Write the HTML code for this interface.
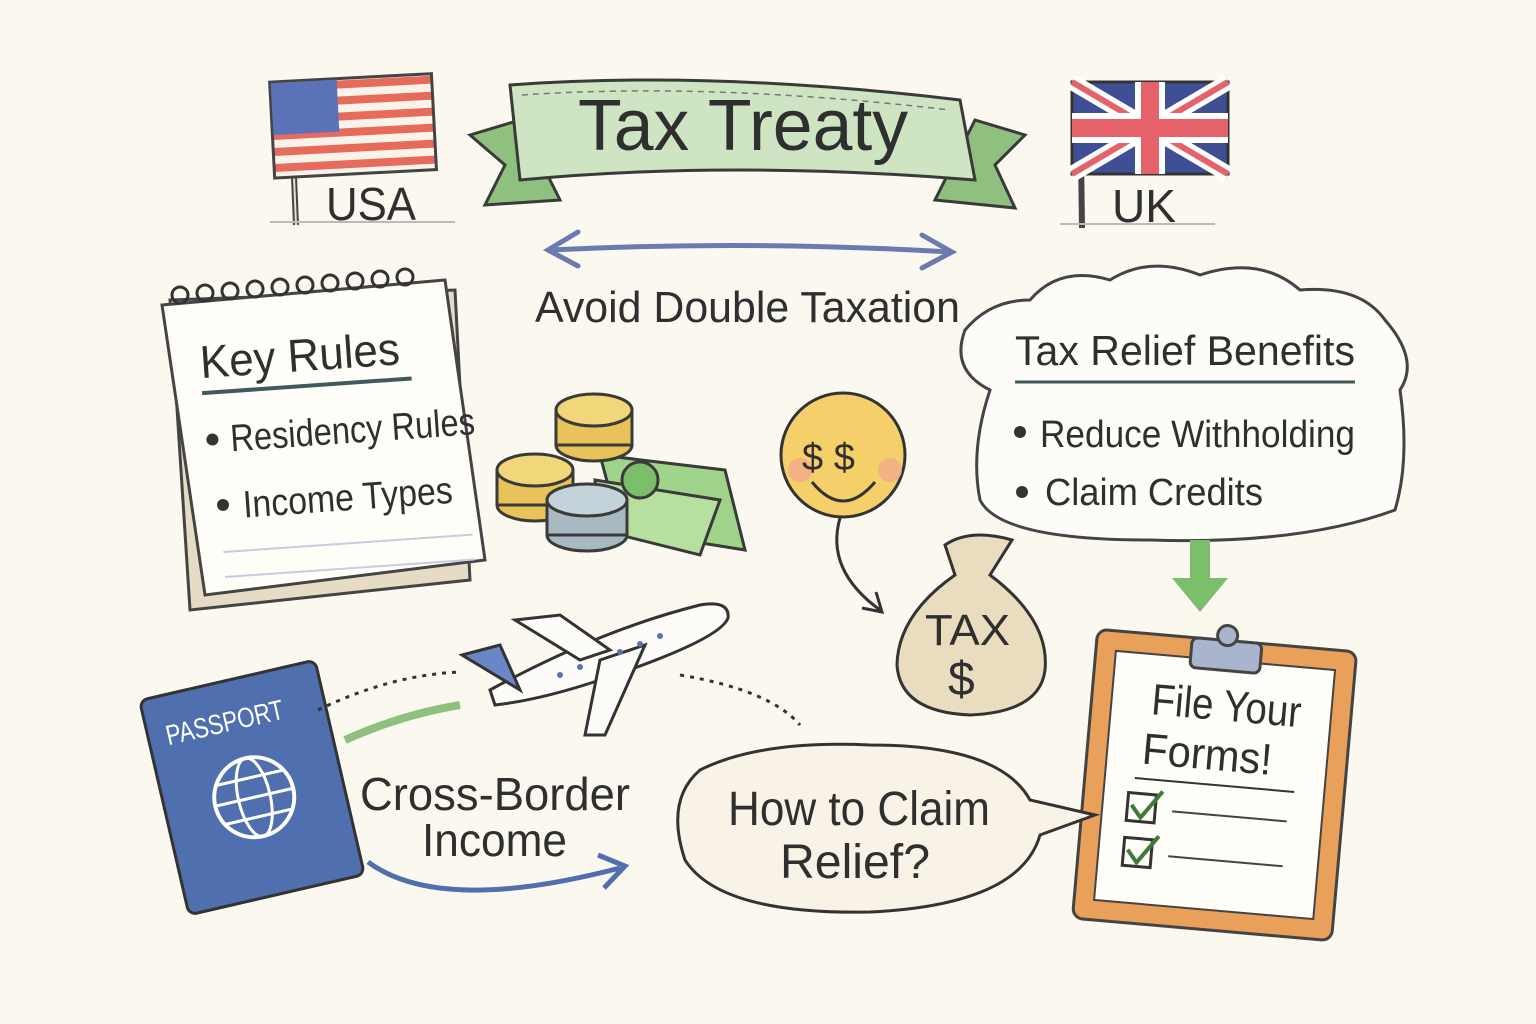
<!DOCTYPE html>
<html><head><meta charset="utf-8"><style>
html,body{margin:0;padding:0;background:#fbf8f0;}
svg{display:block}
text{font-family:"Liberation Sans Narrow","Liberation Sans",sans-serif;fill:#2f2f2f}
</style></head><body>
<svg width="1536" height="1024" viewBox="0 0 1536 1024" xmlns="http://www.w3.org/2000/svg">
<rect width="1536" height="1024" fill="#fbf8f0"/>
<defs>
<pattern id="stripes" width="10" height="16" patternUnits="userSpaceOnUse">
<rect width="10" height="8" fill="#e56b5d"/><rect y="8" width="10" height="8" fill="#fbf3ea"/></pattern>
</defs>
<!-- USA flag -->
<line x1="290" y1="80" x2="296" y2="225" stroke="#444" stroke-width="6"/>
<line x1="290" y1="80" x2="296" y2="225" stroke="#e8e2d6" stroke-width="2"/>
<g transform="rotate(-3 350 125)">
<rect x="272" y="78" width="162" height="96" fill="url(#stripes)" stroke="#444" stroke-width="3"/>
<rect x="273" y="79" width="66" height="52" fill="#5b72b8"/>
</g>
<text x="326" y="220" font-size="46" textLength="90" lengthAdjust="spacingAndGlyphs">USA</text>
<line x1="270" y1="222" x2="455" y2="222" stroke="#bbb" stroke-width="2"/>
<!-- banner -->
<path d="M470 135 L520 120 L560 200 L485 205 L505 165 Z" fill="#8fc07f" stroke="#3a3a3a" stroke-width="3"/>
<path d="M1025 135 L975 120 L935 200 L1015 208 L995 165 Z" fill="#8fc07f" stroke="#3a3a3a" stroke-width="3"/>
<path d="M510 85 Q710 70 960 100 L975 180 Q730 160 520 180 Z" fill="#cfe4c2" stroke="#3a3a3a" stroke-width="3"/>
<path d="M522 95 Q710 82 950 110" fill="none" stroke="#777" stroke-width="1.5" stroke-dasharray="6 5"/>
<text x="578" y="150" font-size="72" textLength="330" lengthAdjust="spacingAndGlyphs">Tax Treaty</text>
<!-- UK flag -->
<line x1="1080" y1="80" x2="1082" y2="228" stroke="#444" stroke-width="6"/>
<rect x="1072" y="82" width="156" height="92" fill="#3f4f95" stroke="#333" stroke-width="3"/>
<line x1="1072" y1="82" x2="1228" y2="174" stroke="#fff" stroke-width="16"/>
<line x1="1228" y1="82" x2="1072" y2="174" stroke="#fff" stroke-width="16"/>
<line x1="1072" y1="82" x2="1228" y2="174" stroke="#e5626a" stroke-width="6"/>
<line x1="1228" y1="82" x2="1072" y2="174" stroke="#e5626a" stroke-width="6"/>
<rect x="1135" y="82" width="30" height="92" fill="#fff"/><rect x="1072" y="113" width="156" height="30" fill="#fff"/>
<rect x="1141" y="82" width="18" height="92" fill="#e5626a"/><rect x="1072" y="119" width="156" height="18" fill="#e5626a"/>
<text x="1112" y="222" font-size="46" textLength="64" lengthAdjust="spacingAndGlyphs">UK</text>
<line x1="1060" y1="224" x2="1215" y2="224" stroke="#bbb" stroke-width="2"/>
<!-- double arrow -->
<path d="M550 250 Q750 240 950 252" fill="none" stroke="#6b7bb0" stroke-width="5"/>
<path d="M578 232 L548 250 L578 266" fill="none" stroke="#6b7bb0" stroke-width="5" stroke-linecap="round"/>
<path d="M922 235 L952 252 L922 268" fill="none" stroke="#6b7bb0" stroke-width="5" stroke-linecap="round"/>
<text x="535" y="322" font-size="44" textLength="425" lengthAdjust="spacingAndGlyphs">Avoid Double Taxation</text>
<!-- notepad -->
<path d="M170 300 L455 290 L470 580 L190 610 Z" fill="#e6dcc6" stroke="#444" stroke-width="3"/>
<path d="M162 305 L445 280 L485 560 L205 595 Z" fill="#fffdf8" stroke="#444" stroke-width="3"/>
<g fill="none" stroke="#333" stroke-width="3">
<circle cx="180" cy="295" r="8"/><circle cx="205" cy="293" r="8"/><circle cx="230" cy="291" r="8"/><circle cx="255" cy="289" r="8"/><circle cx="280" cy="287" r="8"/><circle cx="305" cy="285" r="8"/><circle cx="330" cy="283" r="8"/><circle cx="355" cy="281" r="8"/><circle cx="380" cy="279" r="8"/><circle cx="405" cy="277" r="8"/>
</g>
<g transform="rotate(-4 320 430)">
<text x="205" y="370" font-size="46" textLength="200" lengthAdjust="spacingAndGlyphs">Key Rules</text>
<line x1="205" y1="385" x2="415" y2="385" stroke="#3e5a5a" stroke-width="4"/>
<circle cx="212" cy="432" r="6" fill="#333"/><text x="230" y="445" font-size="38" textLength="245" lengthAdjust="spacingAndGlyphs">Residency Rules</text>
<circle cx="218" cy="498" r="6" fill="#333"/><text x="238" y="512" font-size="38" textLength="210" lengthAdjust="spacingAndGlyphs">Income Types</text>
<line x1="215" y1="545" x2="465" y2="545" stroke="#c7cde0" stroke-width="2"/>
<line x1="215" y1="570" x2="465" y2="570" stroke="#c7cde0" stroke-width="2"/>
</g>
<!-- coins & bills -->
<g stroke="#3a3a3a" stroke-width="3">
<path d="M600 455 L725 470 L745 550 L620 530 Z" fill="#9fd48a"/>
<path d="M595 480 L720 500 L700 555 L600 530 Z" fill="#b7e0a0"/>
<circle cx="640" cy="480" r="18" fill="#7cbf6a"/>
<ellipse cx="594" cy="445" rx="38" ry="16" fill="#e9c25a"/><rect x="556" y="410" width="76" height="35" fill="#e9c25a"/><ellipse cx="594" cy="410" rx="38" ry="16" fill="#f2d67a"/>
<ellipse cx="535" cy="505" rx="38" ry="16" fill="#e9c25a"/><rect x="497" y="470" width="76" height="35" fill="#e9c25a"/><ellipse cx="535" cy="470" rx="38" ry="16" fill="#f2d67a"/>
<ellipse cx="587" cy="535" rx="40" ry="16" fill="#a8b9c2"/><rect x="547" y="500" width="80" height="35" fill="#a8b9c2"/><ellipse cx="587" cy="500" rx="40" ry="16" fill="#c4d2da"/>
</g>
<!-- smiley -->
<circle cx="843" cy="455" r="62" fill="#f5cf6a" stroke="#333" stroke-width="3"/>
<circle cx="800" cy="470" r="12" fill="#f2a590" opacity=".7"/><circle cx="890" cy="470" r="12" fill="#f2a590" opacity=".7"/>
<text x="802" y="470" font-size="38">$ $</text>
<path d="M812 482 Q843 520 875 482" fill="none" stroke="#333" stroke-width="3"/>
<path d="M840 518 Q825 570 880 610" fill="none" stroke="#333" stroke-width="3"/>
<path d="M862 608 L882 612 L876 592" fill="none" stroke="#333" stroke-width="3"/>
<!-- money bag -->
<path d="M945 545 Q970 528 1012 540 L990 575 Q1050 620 1045 670 Q1040 712 970 715 Q900 712 897 665 Q898 615 955 575 Z" fill="#eadcbf" stroke="#333" stroke-width="3"/>
<text x="925" y="645" font-size="44" textLength="85" lengthAdjust="spacingAndGlyphs">TAX</text><text x="948" y="695" font-size="48">$</text>
<!-- cloud -->
<path d="M990 390 Q950 370 965 330 Q990 300 1030 300 Q1060 265 1110 280 Q1150 255 1200 275 Q1260 255 1300 290 Q1360 285 1385 320 Q1420 360 1400 390 Q1410 460 1395 510 Q1300 545 1150 540 Q1000 540 980 500 Q970 450 990 390 Z" fill="#fdfcf8" stroke="#444" stroke-width="3"/>
<text x="1015" y="365" font-size="42" textLength="340" lengthAdjust="spacingAndGlyphs">Tax Relief Benefits</text>
<line x1="1015" y1="382" x2="1355" y2="382" stroke="#3e5a5a" stroke-width="3"/>
<circle cx="1020" cy="432" r="6" fill="#333"/><text x="1040" y="447" font-size="38" textLength="315" lengthAdjust="spacingAndGlyphs">Reduce Withholding</text>
<circle cx="1022" cy="492" r="6" fill="#333"/><text x="1045" y="505" font-size="38" textLength="218" lengthAdjust="spacingAndGlyphs">Claim Credits</text>
<!-- green arrow -->
<rect x="1190" y="540" width="20" height="40" fill="#7cbf6a"/>
<path d="M1172 578 L1228 578 L1200 612 Z" fill="#7cbf6a"/>
<!-- clipboard -->
<g transform="rotate(5 1215 780)">
<rect x="1085" y="640" width="260" height="290" rx="10" fill="#e8a05a" stroke="#444" stroke-width="3"/>
<rect x="1105" y="660" width="220" height="250" fill="#fffdf8" stroke="#444" stroke-width="2"/>
<rect x="1180" y="640" width="70" height="30" rx="6" fill="#a9b5cc" stroke="#444" stroke-width="3"/>
<circle cx="1215" cy="635" r="10" fill="#a9b5cc" stroke="#444" stroke-width="3"/>
<text x="1145" y="720" font-size="44" textLength="150" lengthAdjust="spacingAndGlyphs">File Your</text>
<text x="1140" y="770" font-size="44" textLength="130" lengthAdjust="spacingAndGlyphs">Forms!</text>
<line x1="1135" y1="785" x2="1295" y2="785" stroke="#333" stroke-width="2"/>
<rect x="1130" y="800" width="28" height="28" fill="none" stroke="#333" stroke-width="3"/>
<path d="M1134 812 L1144 824 L1164 796" fill="none" stroke="#3f7a3a" stroke-width="4"/>
<rect x="1130" y="845" width="28" height="28" fill="none" stroke="#333" stroke-width="3"/>
<path d="M1134 857 L1144 869 L1164 841" fill="none" stroke="#3f7a3a" stroke-width="4"/>
<line x1="1175" y1="815" x2="1290" y2="815" stroke="#444" stroke-width="2"/>
<line x1="1175" y1="860" x2="1290" y2="860" stroke="#444" stroke-width="2"/>
</g>
<!-- passport -->
<g transform="rotate(-13 240 780)">
<rect x="160" y="680" width="180" height="220" rx="8" fill="#4f6fae" stroke="#333" stroke-width="3"/>
<text x="178" y="730" font-size="28" textLength="120" lengthAdjust="spacingAndGlyphs" style="fill:#fff">PASSPORT</text>
<circle cx="250" cy="800" r="40" fill="none" stroke="#fff" stroke-width="4"/>
<ellipse cx="250" cy="800" rx="16" ry="40" fill="none" stroke="#fff" stroke-width="3"/>
<line x1="210" y1="800" x2="290" y2="800" stroke="#fff" stroke-width="3"/>
<line x1="216" y1="780" x2="284" y2="780" stroke="#fff" stroke-width="3"/>
<line x1="216" y1="820" x2="284" y2="820" stroke="#fff" stroke-width="3"/>
</g>
<!-- airplane -->
<path d="M345 740 Q400 715 460 705" stroke="#8fc07f" stroke-width="8" fill="none"/>
<path d="M318 710 Q390 675 460 672" fill="none" stroke="#333" stroke-width="3" stroke-dasharray="4 6"/>
<path d="M680 675 Q770 690 800 725" fill="none" stroke="#333" stroke-width="3" stroke-dasharray="4 6"/>
<path d="M490 690 Q600 630 700 605 Q730 600 728 618 Q720 640 600 680 Q540 700 495 705 Z" fill="#fdfcf8" stroke="#333" stroke-width="3"/>
<path d="M462 655 L500 645 L520 690 Z" fill="#6b86c4" stroke="#333" stroke-width="3"/>
<path d="M515 620 L560 615 L610 650 L580 660 Z" fill="#fdfcf8" stroke="#333" stroke-width="3"/>
<path d="M600 660 L645 645 L605 735 L585 735 Z" fill="#fdfcf8" stroke="#333" stroke-width="3"/>
<g fill="#5b72b8"><circle cx="560" cy="675" r="3"/><circle cx="580" cy="667" r="3"/><circle cx="620" cy="652" r="3"/><circle cx="640" cy="644" r="3"/><circle cx="660" cy="636" r="3"/></g>
<text x="360" y="810" font-size="46" textLength="270" lengthAdjust="spacingAndGlyphs">Cross-Border</text>
<text x="422" y="856" font-size="46" textLength="145" lengthAdjust="spacingAndGlyphs">Income</text>
<path d="M368 862 Q440 915 620 868" fill="none" stroke="#4f6fae" stroke-width="5"/>
<path d="M598 855 L625 866 L604 888" fill="none" stroke="#4f6fae" stroke-width="5"/>
<!-- speech bubble -->
<path d="M700 770 Q760 740 870 745 Q1000 745 1030 800 L1095 815 L1040 835 Q1020 905 870 912 Q720 915 685 860 Q665 800 700 770 Z" fill="#f8f3e6" stroke="#333" stroke-width="3"/>
<text x="728" y="825" font-size="48" textLength="262" lengthAdjust="spacingAndGlyphs">How to Claim</text>
<text x="780" y="878" font-size="48" textLength="150" lengthAdjust="spacingAndGlyphs">Relief?</text>
</svg>
</body></html>
